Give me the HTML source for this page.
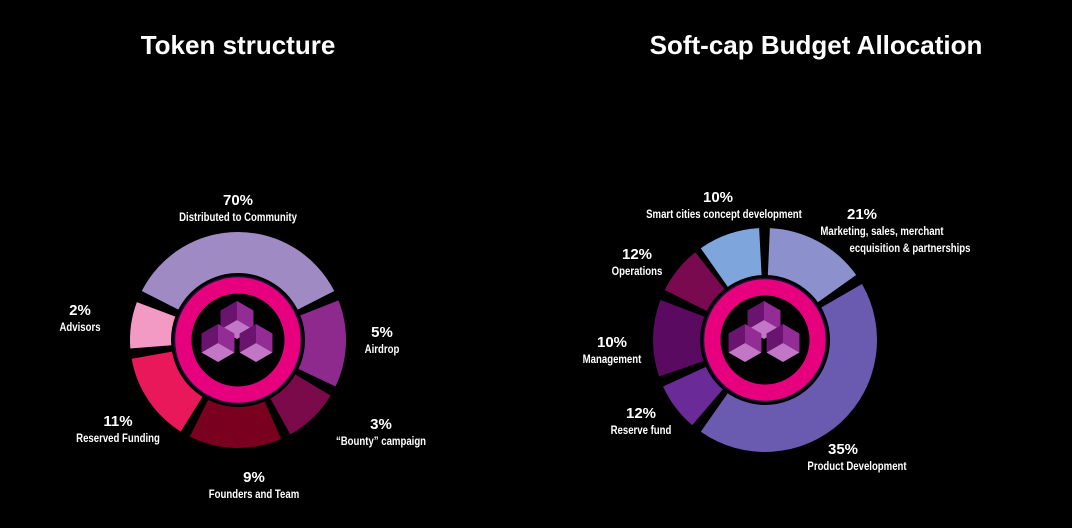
<!DOCTYPE html>
<html><head><meta charset="utf-8">
<style>
html,body{margin:0;padding:0;background:#000;width:1072px;height:528px;overflow:hidden}
svg{display:block}
.t{font-family:"Liberation Sans",sans-serif;font-weight:bold;fill:#fff;text-anchor:middle}
.p{font-family:"Liberation Sans",sans-serif;font-weight:bold;fill:#fff;text-anchor:middle;font-size:15px}
.l{font-family:"Liberation Sans Narrow","Liberation Sans",sans-serif;font-weight:bold;fill:#fff;text-anchor:middle;font-size:12px}
</style></head>
<body>
<svg id="c" width="1072" height="528" viewBox="0 0 1072 528">
<text class="t" x="238" y="54" font-size="26">Token structure</text>
<text class="t" x="816" y="54" font-size="26">Soft-cap Budget Allocation</text>
</svg>
<script>
// Token structure data
const tokenCategories = ["Distributed to Community","Airdrop","\u201cBounty\u201d campaign","Founders and Team","Reserved Funding","Advisors"];
const tokenValues = [70,5,3,9,11,2];
// visual arc spans (degrees) as drawn in the infographic
const tokenArcSpans = [126,47,30,50,48,25];
const tokenColors = ["#a08ac4","#8e2a8e","#7a0a4a","#7a0020","#e8185a","#f39ac4"];
// Budget data
const budgetCategories = ["Smart cities concept development","Marketing, sales, merchant|ecquisition  &  partnerships","Product Development","Reserve fund","Management","Operations"];
const budgetValues = [10,21,35,12,10,12];
const budgetArcSpans = [32,52,155,25,40,25];
const budgetColors = ["#7ea6dc","#8c90cc","#6a5ab0","#6a2a98","#5a0a60","#7a0a50"];

const NS="http://www.w3.org/2000/svg";
const svg=document.getElementById('c');
function mk(tag,attrs,parent){const e=document.createElementNS(NS,tag);for(const k in attrs)e.setAttribute(k,attrs[k]);(parent||svg).appendChild(e);return e;}
function pt(cx,cy,r,a){const t=a*Math.PI/180;return [cx+r*Math.sin(t),cy-r*Math.cos(t)];}
function arcPath(cx,cy,r0,r1,a0,a1){
  const p1=pt(cx,cy,r1,a0),p2=pt(cx,cy,r1,a1),p3=pt(cx,cy,r0,a1),p4=pt(cx,cy,r0,a0);
  const lg=(a1-a0)>180?1:0;
  return `M${p1[0]},${p1[1]}A${r1},${r1} 0 ${lg} 1 ${p2[0]},${p2[1]}L${p3[0]},${p3[1]}A${r0},${r0} 0 ${lg} 0 ${p4[0]},${p4[1]}Z`;
}
function donut(name,cx,cy,r0,r1,start,spans,colors,cats,gap){
  let a=start;
  spans.forEach((s,i)=>{
    const p=mk('path',{d:arcPath(cx,cy,r0,r1,a,a+s),fill:colors[i]});
    
    
    a+=s+gap;
  });
  const ring=mk('circle',{cx:cx,cy:cy,r:r0,fill:'#000',stroke:'#000',"stroke-width":4});
  
  
  const pink=mk('circle',{cx:cx,cy:cy,r:r0-10,fill:'none',stroke:'#e6007e','stroke-width':17});
  
  
  const ob=mk('circle',{cx:cx,cy:cy,r:r0-1.5,fill:'none',stroke:'#1c1238','stroke-width':1.5});
  
  
  const g=mk('g',{});
  
  
  [[-1,-20],[-20,3],[18,3]].forEach(o=>cube(g,cx+o[0],cy+o[1],19));
}
function cube(g,x,y,r){
  const v=k=>pt(x,y,r,k*60);
  const poly=(pts,f)=>mk('polygon',{points:pts.map(q=>q.join(',')).join(' '),fill:f},g);
  poly([[x,y],v(4),v(5),v(0)],'#6a1470');
  poly([[x,y],v(0),v(1),v(2)],'#942c96');
  poly([[x,y],v(2),v(3),v(4)],'#c277c6');
}
function label(name,x,y,pct,lines){
  const a=mk('text',{class:'p',x:x,y:y});a.textContent=pct;
  
  
  lines.forEach((ln,i)=>{
    const b=mk('text',{class:'l',x:0,y:0,transform:`translate(${x+(ln.dx||0)},${y+16+i*17}) scale(0.8,1)`});b.textContent=ln.t;
    
    
  });
}
donut('token',238,340,65,108,-63,tokenArcSpans,tokenColors,tokenCategories,5.5);
donut('budget',765,340,63,112,-35,budgetArcSpans,budgetColors,budgetCategories,5.5);

const tokenLabelPos=[[238,205],[382,337],[381,429],[254,482],[118,426],[80,315]];
tokenCategories.forEach((c,i)=>label('token-'+(i+1),tokenLabelPos[i][0],tokenLabelPos[i][1],tokenValues[i]+'%',[{t:c}]));
const budgetLabelPos=[[718,202],[862,219],[843,454],[641,418],[612,347],[637,259]];
budgetCategories.forEach((c,i)=>{
  const parts=c.split('|');
  const lines=parts.map((t,j)=>({t:t,dx:(i===1?(j===0?20:48):(i===2?14:(i===0?6:0)))}));
  label('budget-'+(i+1),budgetLabelPos[i][0],budgetLabelPos[i][1],budgetValues[i]+'%',lines);
});
</script>
</body></html>
